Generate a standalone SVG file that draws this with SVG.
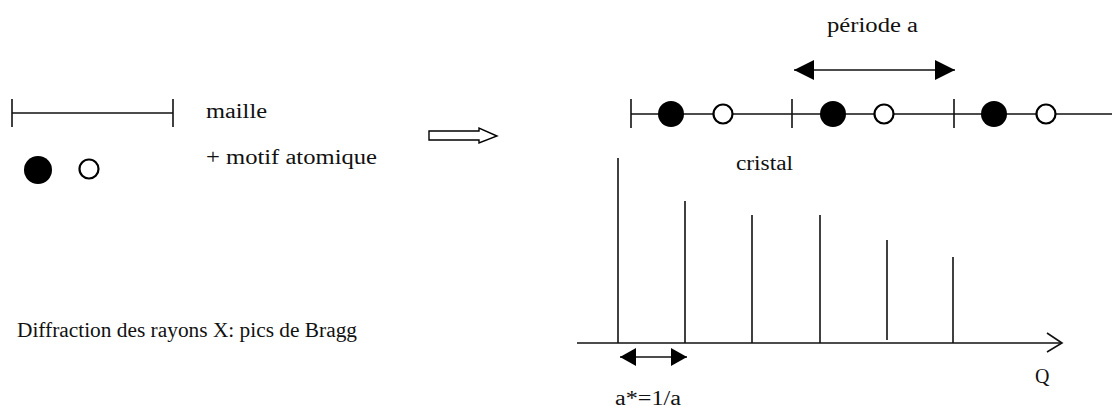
<svg xmlns="http://www.w3.org/2000/svg" width="1112" height="407" viewBox="0 0 1112 407">
<style>
.ln{stroke:#111;stroke-width:1.6;fill:none}
.t{font-family:"Liberation Serif","Times New Roman",serif;font-size:20px;fill:#111}
.full{fill:#000}
.open{fill:#fff;stroke:#000;stroke-width:2.2}
</style>
<defs>
<marker id="fh" viewBox="0 0 20 20" refX="20" refY="10" markerWidth="20" markerHeight="20" markerUnits="userSpaceOnUse" orient="auto-start-reverse">
<path d="M0,0 L20,10 L0,20 Z" fill="#000"/>
</marker>
<marker id="sh" viewBox="0 0 16 18" refX="16" refY="9" markerWidth="16" markerHeight="18" markerUnits="userSpaceOnUse" orient="auto-start-reverse">
<path d="M0,0 L16,9 L0,18 Z" fill="#000"/>
</marker>
</defs>
<rect width="1112" height="407" fill="#fff"/>
<g id="maille">
<line class="ln" x1="12" y1="113" x2="173" y2="113"/>
<line class="ln" x1="12" y1="99" x2="12" y2="127"/>
<line class="ln" x1="173" y1="99" x2="173" y2="127"/>
<text class="t" x="206" y="118" textLength="61" lengthAdjust="spacingAndGlyphs">maille</text>
</g>
<g id="motif">
<circle class="full" cx="38" cy="170" r="14"/>
<circle class="open" cx="89" cy="169" r="9.5"/>
<text class="t" x="206" y="164" textLength="171" lengthAdjust="spacingAndGlyphs">+ motif atomique</text>
</g>
<g id="fleche">
<polygon points="429,131 479,131 479,128 497,136 479,143 479,140 429,140" fill="#fff" stroke="#000" stroke-width="1.4"/>
</g>
<g id="cristal">
<line class="ln" x1="631" y1="114" x2="1112" y2="114"/>
<line class="ln" x1="631" y1="99" x2="631" y2="128"/>
<line class="ln" x1="792" y1="99" x2="792" y2="128"/>
<line class="ln" x1="954" y1="99" x2="954" y2="128"/>
<circle class="full" cx="671" cy="114" r="13"/>
<circle class="full" cx="833" cy="114" r="13"/>
<circle class="full" cx="994" cy="114" r="13"/>
<circle class="open" cx="723" cy="114" r="9.5"/>
<circle class="open" cx="884" cy="114" r="9.5"/>
<circle class="open" cx="1046" cy="114" r="9.5"/>
<text class="t" x="736" y="170" textLength="57" lengthAdjust="spacingAndGlyphs">cristal</text>
</g>
<g id="periode">
<text class="t" x="827" y="32" textLength="91" lengthAdjust="spacingAndGlyphs">période a</text>
</g>
<g id="bragg">
<line class="ln" x1="618" y1="158" x2="618" y2="343"/>
<line class="ln" x1="685" y1="201" x2="685" y2="343"/>
<line class="ln" x1="752" y1="215" x2="752" y2="343"/>
<line class="ln" x1="820" y1="215" x2="820" y2="343"/>
<line class="ln" x1="887" y1="240" x2="887" y2="340"/>
<line class="ln" x1="953" y1="257" x2="953" y2="343"/>
<text class="t" x="615" y="405" textLength="66" lengthAdjust="spacingAndGlyphs">a*=1/a</text>
<text class="t" x="1035" y="383">Q</text>
</g>
<g id="legende">
<text class="t" x="17" y="337" textLength="340" lengthAdjust="spacingAndGlyphs">Diffraction des rayons X: pics de Bragg</text>
</g>
<g id="connecteurs">
<line class="ln" x1="794" y1="70" x2="955" y2="70" marker-start="url(#fh)" marker-end="url(#fh)"/>
<line class="ln" x1="620" y1="357" x2="687" y2="357" marker-start="url(#sh)" marker-end="url(#sh)"/>
<line class="ln" x1="577" y1="343" x2="1062" y2="343"/>
<polyline class="ln" points="1047,333 1062,343 1047,352"/>
</g>
</svg>
